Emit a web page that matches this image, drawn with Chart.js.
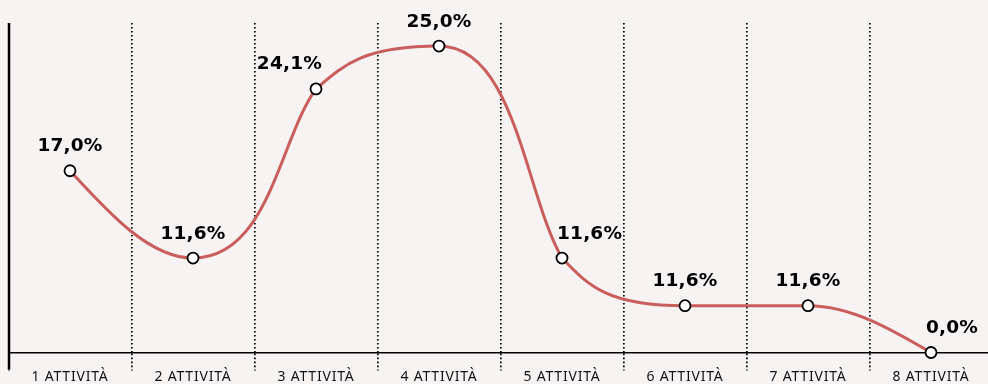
<!DOCTYPE html>
<html>
<head>
<meta charset="utf-8">
<script src="https://cdn.jsdelivr.net/npm/chart.js@4"></script>
<style>
  html, body { margin: 0; padding: 0; background: #f7f3f2; overflow: hidden; }
  #wrap { width: 1000px; height: 384px; }
</style>
</head>
<body>
<div id="wrap"><canvas id="activityChart" width="1000" height="384"></canvas></div>
<script>
// categories on the x axis
const categories = ["1 ATTIVITÀ", "2 ATTIVITÀ", "3 ATTIVITÀ", "4 ATTIVITÀ",
                    "5 ATTIVITÀ", "6 ATTIVITÀ", "7 ATTIVITÀ", "8 ATTIVITÀ"];
// heights at which the points sit in the picture (chart units, axis 0..30)
const curveLevels = [16.55, 8.6, 24.0, 27.9, 8.6, 4.26, 4.26, 0];
// percentages printed above each point
const shares = [17.0, 11.6, 24.1, 25.0, 11.6, 11.6, 11.6, 0.0];

const LINE_COLOR = "rgb(201, 94, 93)";
const LABEL_ALIGN = ["center", "center", "right", "center", "left", "center", "center", "left"];

// handle lengths for the smoothed line, as a share of the gap between points
const EXT_HANDLE = 0.62;       // at peaks / valleys (flat tangent)
const EXT_NEAR_END = 0.35;     // same, on the side facing the first / last point
const STEEP_HANDLE = 0.3;      // on slopes, steep side
const SOFT_HANDLE = 0.22;      // on slopes, gentle side
const END_HANDLE = 0.5;

const fmt = v => v.toFixed(1).replace(".", ",") + "%";

// "hand drawn" smoothing: flat at peaks and valleys, steep on the slopes
const smoothLine = {
    id: "smoothLine",
    beforeDatasetsDraw(chart) {
        const meta = chart.getDatasetMeta(0);
        const pts = meta.data;
        const n = pts.length;
        const sec = [];
        for (let i = 0; i < n - 1; i++) {
            sec.push((pts[i + 1].y - pts[i].y) / (pts[i + 1].x - pts[i].x));
        }
        for (let i = 1; i < n - 1; i++) {
            const p = pts[i];
            const dx0 = p.x - pts[i - 1].x;
            const dx1 = pts[i + 1].x - p.x;
            const s0 = sec[i - 1], s1 = sec[i];
            let mIn = 0, mOut = 0;
            let hIn = i === 1 ? EXT_NEAR_END : EXT_HANDLE;
            let hOut = i === n - 2 ? EXT_NEAR_END : EXT_HANDLE;
            if (s0 * s1 > 0) {
                const steepIn = Math.abs(s0) >= Math.abs(s1);
                const steep = steepIn ? s0 : s1;
                const mean = (s0 + s1) / 2;
                mIn = steepIn ? steep : mean;
                mOut = steepIn ? mean : steep;
                hIn = steepIn ? STEEP_HANDLE : SOFT_HANDLE;
                hOut = steepIn ? SOFT_HANDLE : STEEP_HANDLE;
            }
            p.cp1x = p.x - hIn * dx0; p.cp1y = p.y - mIn * hIn * dx0;
            p.cp2x = p.x + hOut * dx1; p.cp2y = p.y + mOut * hOut * dx1;
        }
        const first = pts[0], last = pts[n - 1];
        first.cp2x = first.x + (pts[1].cp1x - first.x) * END_HANDLE;
        first.cp2y = first.y + (pts[1].cp1y - first.y) * END_HANDLE;
        first.cp1x = first.x; first.cp1y = first.y;
        last.cp1x = last.x + (pts[n - 2].cp2x - last.x) * END_HANDLE;
        last.cp1y = last.y + (pts[n - 2].cp2y - last.y) * END_HANDLE;
        last.cp2x = last.x; last.cp2y = last.y;
        meta.dataset._pointsUpdated = true;
        meta.dataset._path = undefined;
    }
};

// data labels above the points
const pointLabels = {
    id: "pointLabels",
    afterDatasetsDraw(chart) {
        const ctx = chart.ctx;
        const meta = chart.getDatasetMeta(0);
        ctx.save();
        ctx.font = "bold 18.5px 'DejaVu Sans'";
        ctx.letterSpacing = "0.2px";
        ctx.fillStyle = "#000";
        ctx.textBaseline = "alphabetic";
        meta.data.forEach((pt, i) => {
            const align = LABEL_ALIGN[i];
            let x = pt.x;
            if (align === "right") x = pt.x + 6;
            if (align === "left") x = pt.x - 5;
            ctx.textAlign = align;
            ctx.fillText(fmt(shares[i]), x, pt.y - 19.5);
        });
        ctx.restore();
    }
};

// left axis line, running a little below the x axis
const leftAxis = {
    id: "leftAxis",
    beforeDraw(chart) {
        chart.ctx.letterSpacing = "0.8px";
    },
    afterDraw(chart) {
        const {ctx, chartArea} = chart;
        ctx.save();
        ctx.strokeStyle = "#000";
        ctx.lineWidth = 2.5;
        ctx.beginPath();
        ctx.moveTo(chartArea.left + 0.5, chartArea.top);
        ctx.lineTo(chartArea.left + 0.5, chartArea.bottom + 17);
        ctx.stroke();
        ctx.restore();
    }
};

const ctx = document.getElementById("activityChart").getContext("2d");

new Chart(ctx, {
    type: "line",
    data: {
        labels: categories,
        datasets: [{
            data: curveLevels,
            borderColor: LINE_COLOR,
            borderWidth: 3,
            tension: 0.4,
            fill: false,
            clip: false,
            pointRadius: 5.5,
            pointBackgroundColor: "#fff",
            pointBorderColor: "#000",
            pointBorderWidth: 1.8
        }]
    },
    options: {
        responsive: false,
        animation: false,
        devicePixelRatio: 1,
        layout: { padding: { left: 8.5, right: 7.5, top: 23, bottom: 0 } },
        plugins: {
            legend: { display: false },
            tooltip: { enabled: false }
        },
        scales: {
            x: {
                offset: true,
                grid: {
                    offset: true,
                    color: "#000",
                    lineWidth: 1.7,
                    tickLength: 18,
                    tickColor: "#000",
                    tickWidth: 1.7,
                    tickBorderDash: [1.6, 2.4]
                },
                border: { display: true, color: "#000", width: 1.6, dash: [1.6, 2.4] },
                ticks: {
                    color: "#111",
                    font: { family: "'Noto Sans'", size: 14 },
                    padding: -2,
                    maxRotation: 0
                },
                afterFit: s => { s.height = 31.5; }
            },
            y: {
                display: false,
                min: 0,
                max: 30
            }
        }
    },
    plugins: [smoothLine, pointLabels, leftAxis]
});
</script>
</body>
</html>
